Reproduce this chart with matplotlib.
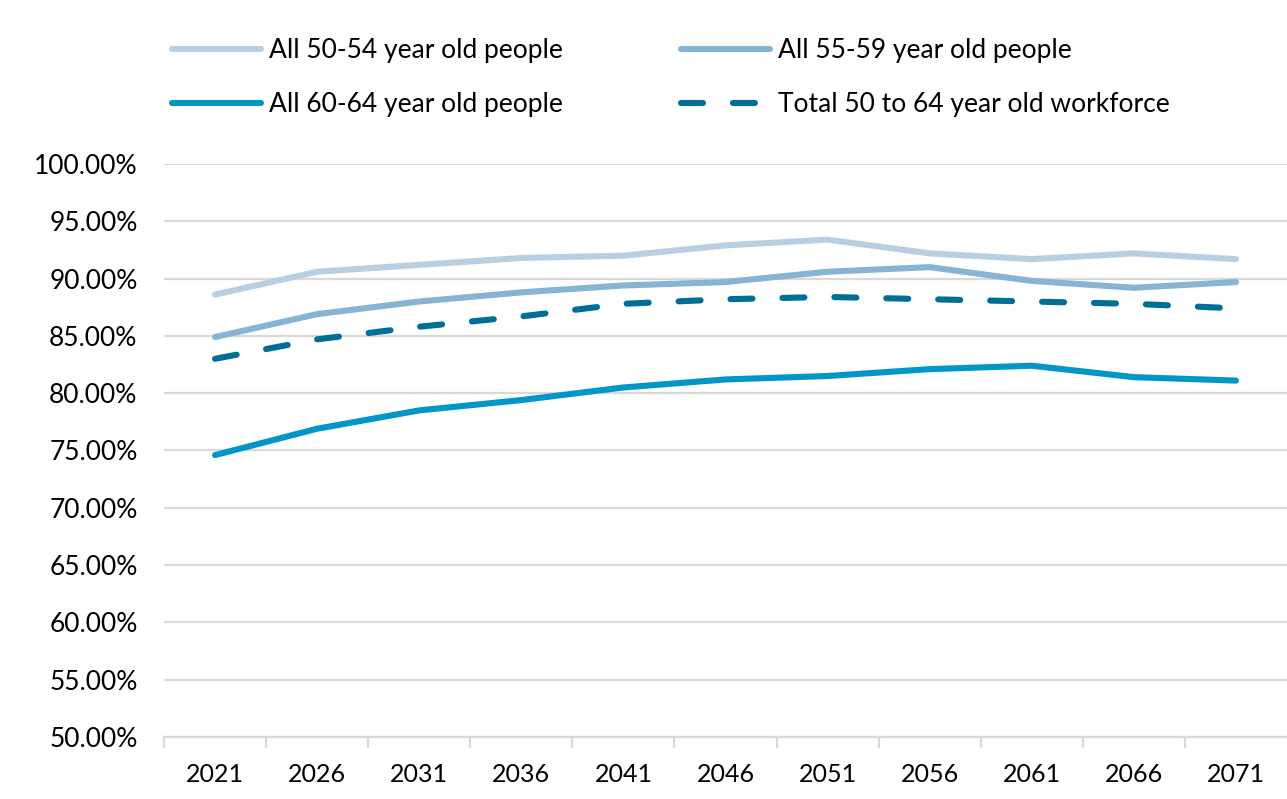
import matplotlib
matplotlib.use("Agg")
import matplotlib.pyplot as plt
import numpy as np
from matplotlib.ticker import FuncFormatter, FixedLocator

years = ["2021", "2026", "2031", "2036", "2041", "2046", "2051", "2056", "2061", "2066", "2071"]

age_50_54 = [88.6, 90.6, 91.2, 91.8, 92.0, 92.9, 93.4, 92.2, 91.7, 92.2, 91.7]
age_55_59 = [84.9, 86.9, 88.0, 88.8, 89.4, 89.7, 90.6, 91.0, 89.8, 89.2, 89.7]
age_60_64 = [74.6, 76.9, 78.5, 79.4, 80.5, 81.2, 81.5, 82.1, 82.4, 81.4, 81.1]
workforce = [83.0, 84.7, 85.8, 86.7, 87.8, 88.2, 88.4, 88.2, 88.0, 87.8, 87.4]

PALETTE = {
    "50-54": "#b8cfe3",
    "55-59": "#85b4d5",
    "60-64": "#0097c8",
    "total": "#006f96",
}

plt.rcParams["font.family"] = ["Lato", "DejaVu Sans"]

fig = plt.figure(figsize=(12.87, 7.99), dpi=100)
ax = fig.add_axes([164 / 1287, 1 - 737 / 799, 1 - 164 / 1287, (737 - 164) / 799])

x = np.arange(len(years))
lw = 4.4
l1, = ax.plot(x, age_50_54, color=PALETTE["50-54"], lw=lw, solid_capstyle="round",
              solid_joinstyle="round", label="All 50-54 year old people", zorder=3)
l2, = ax.plot(x, age_55_59, color=PALETTE["55-59"], lw=lw, solid_capstyle="round",
              solid_joinstyle="round", label="All 55-59 year old people", zorder=3)
l3, = ax.plot(x, age_60_64, color=PALETTE["60-64"], lw=lw, solid_capstyle="round",
              solid_joinstyle="round", label="All 60-64 year old people", zorder=3)
l4, = ax.plot(x, workforce, color=PALETTE["total"], lw=lw, dashes=(3.6, 4.9),
              dash_capstyle="round", label="Total 50 to 64 year old workforce", zorder=3)

ax.set_xlim(-0.5, len(years) - 0.5)
ax.set_ylim(50, 100)
ax.set_yticks(np.arange(50, 100.1, 5))
ax.yaxis.set_major_formatter(FuncFormatter(lambda v, p: f"{v:.2f}%"))
ax.grid(axis="y", color="#d9d9d9", lw=1.6)
ax.set_axisbelow(True)

# category labels in the middle, tick marks on the boundaries
ax.set_xticks(x)
ax.set_xticklabels(years)
ax.xaxis.set_minor_locator(FixedLocator(np.arange(-0.5, len(years) - 0.5, 1)))
ax.tick_params(axis="x", which="major", length=0, pad=19, labelsize=18, colors="#000000")
ax.tick_params(axis="x", which="minor", length=8, width=1.6, color="#d9d9d9")
ax.tick_params(axis="y", length=0, pad=19, labelsize=19)

for side in ["top", "right", "left"]:
    ax.spines[side].set_visible(False)
ax.spines["bottom"].set_color("#d9d9d9")
ax.spines["bottom"].set_linewidth(1.6)

# row-wise order like the original: 50-54, 55-59 / 60-64, total
handles = [l1, l3, l2, l4]
fig.legend(handles, [h.get_label() for h in handles], loc="upper left",
           bbox_to_anchor=(148 / 1287, 1 - 14 / 799), ncol=2,
           frameon=False, fontsize=19, handlelength=3.4, handletextpad=0.3,
           columnspacing=4.45, labelspacing=1.1)

plt.savefig("out.png", dpi=100)
plt.close(fig)
